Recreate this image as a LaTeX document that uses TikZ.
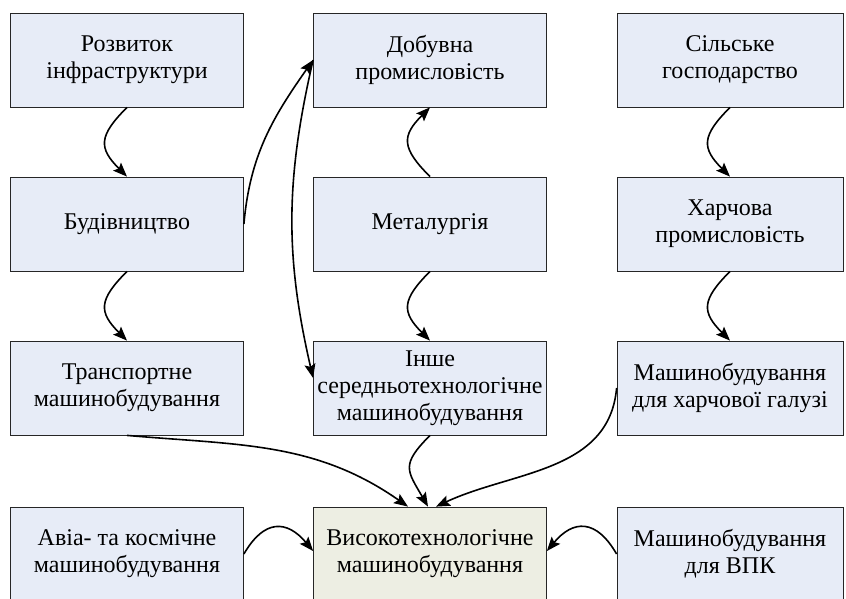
\documentclass[tikz,border=0pt]{standalone}
\usepackage{fontspec}
\setmainfont{Liberation Serif}
\usetikzlibrary{arrows.meta}
\definecolor{boxblue}{RGB}{231,236,247}
\definecolor{boxolive}{RGB}{237,238,227}
\begin{document}
\begin{tikzpicture}[x=1pt,y=-1pt,
  box/.style={draw=black!85,line width=0.8pt,fill=boxblue,minimum width=233pt,minimum height=94pt,inner sep=0pt,align=center,font=\fontsize{24}{27}\selectfont},
  arr/.style={-{Stealth[length=14pt,width=11pt,inset=2.5pt]},line width=1.6pt}]
\useasboundingbox (0,0) rectangle (846,598);

\node[box] (rozv) at (127,60) {Розвиток\\інфраструктури};
\node[box] (dob) at (430,60) {Добувна\\промисловість};
\node[box,minimum width=226pt] (silsk) at (730,60) {Сільське\\господарство};
\node[box] (bud) at (127,224) {Будівництво};
\node[box] (met) at (430,224) {Металургія};
\node[box,minimum width=226pt] (harch) at (730,224) {Харчова\\промисловість};
\node[box] (trans) at (127,388) {Транспортне\\машинобудування};
\node[box] (inshe) at (430,388) {Інше\\середньотехнологічне\\машинобудування};
\node[box,minimum width=226pt] (mharch) at (730,388) {Машинобудування\\для харчової галузі};
\node[box] (avia) at (127,554) {Авіа- та космічне\\машинобудування};
\node[box,fill=boxolive] (vys) at (430,554) {Високотехнологічне\\машинобудування};
\node[box,minimum width=226pt] (vpk) at (730,554) {Машинобудування\\для ВПК};

\draw[arr] (rozv.south) to[out=-135,in=135,looseness=1.5] (bud.north);
\draw[arr] (bud.south) to[out=-135,in=135,looseness=1.5] (trans.north);
\draw[arr] (silsk.south) to[out=-135,in=135,looseness=1.5] (harch.north);
\draw[arr] (harch.south) to[out=-135,in=135,looseness=1.5] (mharch.north);
\draw[arr] (met.south) to[out=-135,in=135,looseness=1.5] (inshe.north);
\draw[arr] (met.north) to[out=135,in=-135,looseness=1.5] (dob.south);
\draw[arr] (bud.east) to[out=85,in=-125] (dob.west);
\draw[arr] (dob.west) to[out=-103,in=103] ([yshift=10pt]inshe.west);
\draw[arr] (trans.south) to[out=-5,in=145] ([xshift=-22pt]vys.north);
\draw[arr] (inshe.south) to[out=-135,in=120,looseness=1.5] ([xshift=-2pt]vys.north);
\draw[arr] (mharch.west) to[out=-95,in=25] ([xshift=6pt]vys.north);
\draw[arr] (avia.east) to[out=60,in=130,looseness=1.5] ([yshift=3pt]vys.west);
\draw[arr] (vpk.west) to[out=120,in=50,looseness=1.5] ([yshift=3pt]vys.east);
\end{tikzpicture}
\end{document}
